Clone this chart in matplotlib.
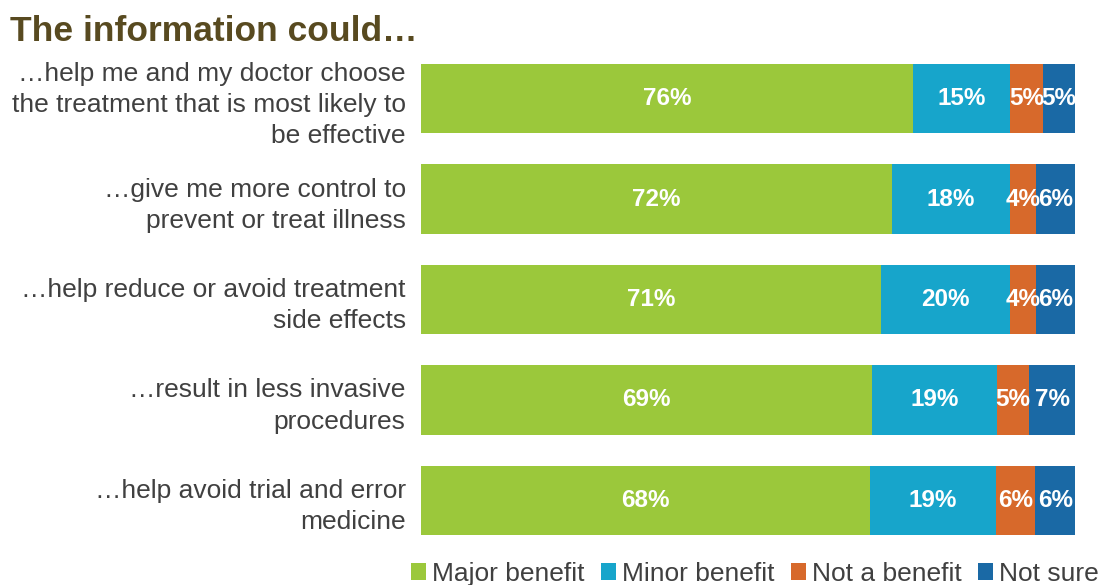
import matplotlib.pyplot as plt
import numpy as np

# data
labels = ["…help me and my doctor choose\nthe treatment that is most likely to\nbe effective",
          "…give me more control to\nprevent or treat illness",
          "…help reduce or avoid treatment\nside effects",
          "…result in less invasive\nprocedures",
          "…help avoid trial and error\nmedicine"]
series = ["Major benefit", "Minor benefit", "Not a benefit", "Not sure"]
major = [76, 72, 71, 69, 68]
minor = [15, 18, 20, 19, 19]
notben = [5, 4, 4, 5, 6]
notsure = [5, 6, 6, 7, 6]
colors = ["#9BC83B", "#17A5CB", "#D7692B", "#1A69A5"]

plt.rcParams['font.family'] = ['Liberation Sans', 'DejaVu Sans']

vals = np.array([major, minor, notben, notsure], dtype=float)
shares = vals / vals.sum(axis=0)   # bars fill full width

fig = plt.figure(figsize=(11.02, 5.85), dpi=100)
ax = fig.add_axes([0.382, 0.0855, 0.5935, 0.8051])
y = np.arange(len(labels))
left = np.zeros(len(labels))
for i, name in enumerate(series):
    ax.barh(y, shares[i], left=left, height=0.69, color=colors[i], label=name)
    for j in range(len(labels)):
        ax.text(left[j] + shares[i, j] / 2, y[j], f"{int(vals[i, j])}%",
                ha='center', va='center', color='white', fontsize=17.5, fontweight='bold')
    left += shares[i]

ax.set_xlim(0, 1)
ax.set_ylim(len(labels) - 1 + 0.345, -0.345)
ax.set_yticks(y)
ax.set_yticklabels(labels, fontsize=19, color='#404040', linespacing=1.38)
ax.tick_params(axis='y', length=0, pad=11)
ax.set_xticks([])
for s in ax.spines.values():
    s.set_visible(False)

fig.text(0.009, 0.946, "The information could…", fontsize=25.5, fontweight='bold',
         color='#584A20', ha='left', va='center')

fig.legend(loc='lower right', bbox_to_anchor=(1.019, -0.042), ncol=4, frameon=False,
           fontsize=19, handlelength=0.55, handleheight=0.6, handletextpad=0.25,
           columnspacing=0.62, labelcolor='#404040')

fig.savefig("out.png", dpi=100)
